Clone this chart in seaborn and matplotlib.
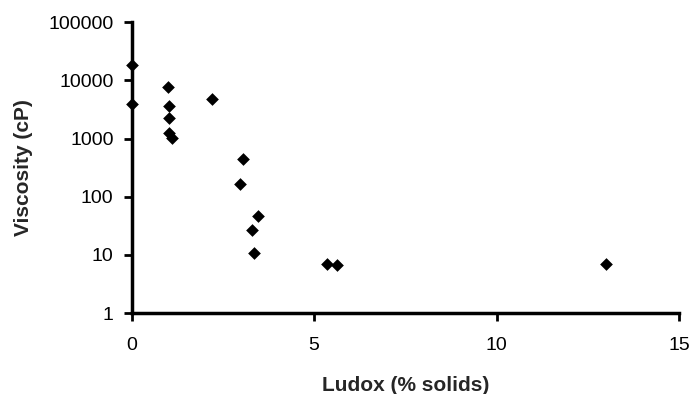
import matplotlib
matplotlib.use("Agg")
import matplotlib.pyplot as plt
import matplotlib.ticker as mticker
import seaborn as sns
import pandas as pd

ludox = [0.0, 0.0, 0.99, 1.02, 1.02, 1.02, 1.11, 2.19, 3.06, 2.98, 3.45, 3.29, 3.36, 5.35, 5.62, 13.0]
viscosity = [18700, 3950, 7600, 3700, 2300, 1250, 1030, 4800, 455, 166, 46, 26.5, 10.8, 7.0, 6.6, 7.0]
x_ticks = [0, 5, 10, 15]
y_ticks = [1, 10, 100, 1000, 10000, 100000]
y_tick_labels = ["1", "10", "100", "1000", "10000", "100000"]

df = pd.DataFrame({"Ludox": ludox, "Viscosity": viscosity})

sns.set_theme(style="ticks")
plt.rcParams['font.family'] = ['Liberation Sans', 'DejaVu Sans']

fig = plt.figure(figsize=(6.93, 3.94), dpi=100)
ax = fig.add_axes([0.190, 0.2053, 0.790, 0.7381])

sns.scatterplot(data=df, x="Ludox", y="Viscosity", marker="D", s=42,
                color="black", edgecolor="black", linewidth=0, ax=ax, legend=False,
                clip_on=False, zorder=3)

ax.set_yscale("log")
ax.set_xlim(0, 15)
ax.set_ylim(1, 100000)
ax.set_xticks(x_ticks)
ax.set_xticklabels([str(t) for t in x_ticks])
ax.set_yticks(y_ticks)
ax.set_yticklabels(y_tick_labels)
ax.yaxis.set_minor_locator(mticker.NullLocator())
ax.xaxis.set_minor_locator(mticker.NullLocator())

for side in ["top", "right"]:
    ax.spines[side].set_visible(False)
for side in ["left", "bottom"]:
    ax.spines[side].set_linewidth(2.5)
    ax.spines[side].set_color("black")
ax.tick_params(axis="both", which="major", direction="out", length=5.5, width=2,
               colors="black", labelsize=14)
ax.tick_params(axis="x", pad=11.5)
ax.tick_params(axis="y", pad=7.5)

ax.set_xlabel("Ludox (% solids)", fontsize=15, fontweight="bold", labelpad=16)
ax.set_ylabel("Viscosity (cP)", fontsize=15, fontweight="bold", labelpad=11)
ax.patch.set_facecolor("white")
fig.patch.set_facecolor("white")

fig.savefig("out.png", dpi=100)
